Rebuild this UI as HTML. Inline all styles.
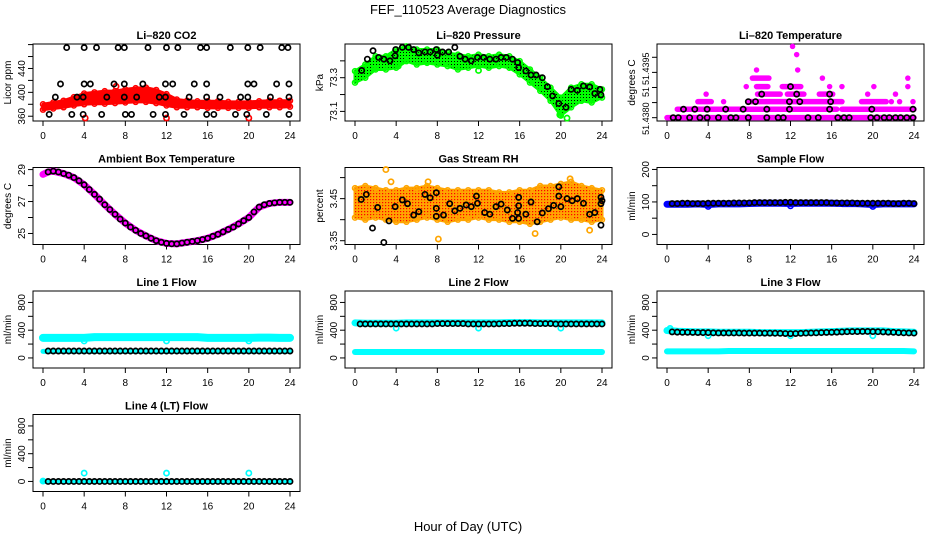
<!DOCTYPE html>
<html><head><meta charset="utf-8"><title>FEF_110523 Average Diagnostics</title>
<style>
html,body{margin:0;padding:0;background:#fff;}
svg{display:block;font-family:"Liberation Sans",Arial,sans-serif;}
</style></head>
<body>
<svg id="chart" width="936" height="540" viewBox="0 0 936 540" xmlns="http://www.w3.org/2000/svg">
<defs>
<pattern id="dotBlack" width="3" height="3" patternUnits="userSpaceOnUse"><rect x="1" y="1" width="1" height="1" fill="#000"/></pattern>
<pattern id="dotRed" width="3" height="3" patternUnits="userSpaceOnUse"><rect x="1" y="1" width="1.2" height="1.2" fill="#f00"/></pattern>
</defs>
<text x="468" y="14" font-size="13" text-anchor="middle">FEF_110523  Average Diagnostics</text>
<text x="468" y="531" font-size="13" text-anchor="middle">Hour of Day (UTC)</text>
</svg>
<script>
// ---------- data ----------
const X_TICKS=[0,4,8,12,16,20,24];
const HOURS=[0,1,2,3,4,5,6,7,8,9,10,11,12,13,14,15,16,17,18,19,20,21,22,23,24];
const HH=[0.5,1,1.5,2,2.5,3,3.5,4,4.5,5,5.5,6,6.5,7,7.5,8,8.5,9,9.5,10,10.5,11,11.5,12,12.5,13,13.5,14,14.5,15,15.5,16,16.5,17,17.5,18,18.5,19,19.5,20,20.5,21,21.5,22,22.5,23,23.5,24];

// CO2
const co2Upper=[380,383,386,392,398,400,402,402,405,407,408,404,397,388,386,385,385,385,384,384,384,385,386,386,386];
const co2Lower=[371,373,375,378,380,381,381,382,383,384,384,382,378,375,375,375,374,374,374,374,374,375,375,375,376];
const co2RedOutH=[4.1,7.1,12,20];
const co2RedOutV=[357,410,357,357];
const co2BlackH=[2.3,4.0,5.2,7.3,7.9,10.2,12.0,13.1,15.3,15.9,18.2,19.9,21.1,23.2,23.8,
 1.7,4.0,4.6,6.9,7.9,9.7,11.9,12.6,14.7,15.9,19.9,20.5,22.7,23.9,
 1.2,3.3,3.9,6.2,7.9,9.1,11.3,11.9,14.2,15.9,17.2,19.2,19.9,22.1,23.9,
 0.6,2.8,3.9,5.7,8.0,8.6,10.7,11.9,13.7,15.9,16.6,18.7,19.8,21.7,23.9];
const co2BlackV=[475,475,475,475,475,475,475,475,475,475,475,475,475,475,475,
 414,414,414,414,414,414,414,414,414,414,414,414,414,414,
 392,392,392,392,392,392,392,392,392,392,392,392,392,392,392,
 363,363,363,363,363,363,363,363,363,363,363,363,363,363,363];

// Pressure
const presUpper=[73.339,73.378,73.427,73.427,73.467,73.486,73.467,73.467,73.467,73.447,73.437,73.427,73.437,73.427,73.437,73.427,73.398,73.349,73.300,73.241,73.182,73.241,73.261,73.261,73.231];
const presLower=[73.271,73.300,73.349,73.349,73.359,73.398,73.378,73.388,73.378,73.369,73.349,73.359,73.369,73.359,73.369,73.359,73.320,73.271,73.222,73.163,73.075,73.124,73.163,73.153,73.182];
const presBlackH=[0.65,1.2,1.75,2.3,2.8,3.4,3.9,3.95,4.6,5.2,5.7,6.2,6.8,7.3,7.9,8.0,8.5,9.1,9.7,10.2,10.7,11.3,11.9,12.5,13.1,13.7,14.2,14.7,15.3,15.8,15.9,16.6,17.1,17.6,18.2,18.7,19.2,19.8,20.5,21.0,21.6,22.2,22.8,23.3,23.8,23.9];
const presBlackV=[73.343,73.41,73.46,73.42,73.41,73.40,73.43,73.467,73.48,73.48,73.467,73.447,73.453,73.453,73.467,73.433,73.453,73.453,73.48,73.427,73.41,73.40,73.42,73.42,73.41,73.41,73.42,73.42,73.41,73.39,73.36,73.34,73.316,73.316,73.30,73.247,73.192,73.147,73.124,73.231,73.225,73.251,73.245,73.206,73.231,73.198];
const presOutH=[4.2,12.0,19.9,20.6];
const presOutV=[73.369,73.343,73.08,73.06];

// Li-820 temperature
const tempLevels=[51.43800,51.43828,51.43853,51.43878,51.43903,51.43931,51.43958,51.44009,51.44036];
const tempSegLevel=[0,1,1,1,2,2,2,2,2,2,2,3,3,3,3,3,3,4,4,4,4,4,4,4,5,5,5,6,6,7,8];
const tempSegStart=[0.0,1.0,5.8,17.0,3.0,5.5,7.9,18.9,21.8,22.6,23.9,3.8,8.8,11.7,14.8,19.5,22.2,7.7,8.7,11.2,15.8,17.0,20.1,23.4,8.3,15.1,23.4,8.7,12.7,12.6,12.2];
const tempSegEnd=[24.0,5.5,16.5,24.0,4.3,5.5,17.0,21.3,21.8,22.6,23.9,3.8,11.0,13.3,16.1,19.5,22.2,7.7,9.8,13.0,15.8,17.0,20.1,23.4,9.9,15.1,23.4,8.7,12.7,12.6,12.2];
const tempBlackH=[0.6,1.1,2.2,3.2,3.9,5.0,6.2,6.7,7.9,9.7,10.8,11.3,13.7,14.7,16.6,17.2,17.7,19.8,20.4,21.1,21.6,22.2,22.7,23.3,23.9,
 1.6,2.7,3.9,5.7,7.4,9.7,11.9,15.8,19.9,23.9, 7.9,8.6,11.9,12.9,15.9, 9.2,12.6,15.8, 12.0];
const tempBlackLevel=[0,0,0,0,0,0,0,0,0,0,0,0,0,0,0,0,0,0,0,0,0,0,0,0,0, 1,1,1,1,1,1,1,1,1,1, 2,2,2,2,2, 3,3,3, 4];

// Ambient box temperature
const ambMagH=[0,0.5,1,2,3,4,5,6,7,8,9,10,11,12,13,14,15,16,17,18,19,20,21,22,23,24];
const ambMagV=[28.7,28.85,28.9,28.75,28.5,28.05,27.45,26.8,26.2,25.65,25.2,24.85,24.55,24.38,24.35,24.45,24.55,24.7,24.95,25.25,25.6,26.0,26.65,26.88,26.95,26.95];
const ambBlackV=[28.85,28.9,28.85,28.75,28.65,28.5,28.3,28.05,27.75,27.45,27.15,26.8,26.5,26.2,25.9,25.65,25.4,25.2,25.0,24.85,24.7,24.55,24.45,24.38,24.35,24.35,24.4,24.45,24.5,24.55,24.62,24.7,24.82,24.95,25.1,25.25,25.4,25.6,25.8,26.0,26.35,26.65,26.8,26.88,26.92,26.95,26.95,26.95];

// Gas stream RH
const rhUpper=[3.475,3.48,3.475,3.47,3.47,3.475,3.475,3.48,3.475,3.47,3.47,3.47,3.47,3.47,3.465,3.465,3.47,3.47,3.48,3.48,3.485,3.49,3.48,3.475,3.47];
const rhLower=[3.405,3.40,3.405,3.40,3.395,3.395,3.40,3.405,3.40,3.395,3.40,3.40,3.405,3.40,3.40,3.395,3.395,3.39,3.395,3.40,3.405,3.40,3.40,3.395,3.40];
const rhOutH=[3.0,3.5,7.1,8.1,17.5,20.9,22.8];
const rhOutV=[3.519,3.49,3.49,3.354,3.367,3.497,3.375];
const rhBlackH=[0.6,1.1,1.7,2.2,2.8,3.3,3.9,4.6,5.1,5.7,6.2,6.8,7.3,7.9,7.9,7.9,8.6,9.2,9.7,10.2,10.8,11.3,11.8,11.9,12.6,13.1,13.7,14.2,14.8,15.3,15.9,15.9,15.8,15.9,16.6,17.1,17.7,18.2,18.8,19.3,19.8,19.8,20.0,20.6,21.1,21.6,22.2,22.8,23.3,23.9,23.9,23.9,24.0];
const rhBlackV=[3.448,3.46,3.38,3.429,3.346,3.397,3.431,3.447,3.438,3.411,3.419,3.46,3.452,3.427,3.464,3.408,3.411,3.438,3.421,3.427,3.435,3.431,3.456,3.439,3.417,3.413,3.431,3.437,3.423,3.403,3.453,3.433,3.417,3.403,3.413,3.442,3.395,3.416,3.426,3.434,3.478,3.456,3.431,3.45,3.445,3.45,3.439,3.413,3.417,3.453,3.438,3.387,3.445];

// Sample flow
const sampleBlue=[93,93,93,94,92,94,94,94,95,96,96,96,95,96,96,96,96,95,95,94,92,94,94,94,94];
const sampleBlack=[95,95,96,96,95,95,95,96,96,96,96,96,97,97,97,97,98,98,98,98,98,98,99,99,98,98,98,98,98,98,98,97,97,97,97,97,96,96,96,96,96,96,96,95,95,96,96,95];
const sampleOutH=[4,12,20];
const sampleOutV=[86,88,86];

// Line flows
const l1CyanHi=[290,290,290,290,290,300,300,300,300,300,300,300,300,300,300,300,290,290,290,290,290,292,292,290,290];
const l1CyanLo=[95,95,95,95,95,95,95,95,95,95,95,95,95,95,95,95,95,95,95,95,95,95,95,95,95];
const l1Black=[100,100,100,100,100,100,100,100,100,100,100,100,100,100,100,100,100,100,100,100,100,100,100,100,100,100,100,100,100,100,100,100,100,100,100,100,100,100,100,100,100,100,100,100,100,100,100,100];
const l1OutH=[4,12,20];
const l1OutV=[245,245,245];

const l2CyanHi=[505,500,500,500,500,505,505,505,505,505,505,505,505,505,505,510,510,510,505,505,505,505,505,505,505];
const l2CyanLo=[85,85,85,85,85,85,85,85,85,85,85,85,85,85,85,85,85,85,85,85,85,85,85,85,85];
const l2Black=[490,490,490,490,490,490,490,490,490,490,490,490,490,490,490,495,495,495,495,495,495,490,490,490,490,490,490,492,495,495,500,500,500,500,495,495,495,495,490,490,490,490,490,490,490,490,490,490];
const l2OutH=[4,12,20];
const l2OutV=[430,430,430];

const l3CyanHi=[395,385,380,375,375,370,370,370,370,365,365,365,365,365,370,375,380,385,390,390,390,390,380,375,370];
const l3CyanLo=[95,95,95,95,95,95,100,100,100,100,100,100,100,100,100,100,100,100,100,100,100,100,100,100,95];
const l3Black=[375,372,370,370,368,366,365,365,362,360,360,360,360,360,358,358,358,358,357,357,356,355,352,350,352,355,358,360,362,365,368,370,372,375,378,380,380,382,382,380,378,375,372,370,365,362,360,358];
const l3OutH=[0.3,4,12,20];
const l3OutV=[425,320,320,320];

const l4CyanLo=[0,0,0,0,0,0,0,0,0,0,0,0,0,0,0,0,0,0,0,0,0,0,0,0,0];
const l4Black=[0,0,0,0,0,0,0,0,0,0,0,0,0,0,0,0,0,0,0,0,0,0,0,0,0,0,0,0,0,0,0,0,0,0,0,0,0,0,0,0,0,0,0,0,0,0,0,0];
const l4OutH=[0,4,12,20];
const l4OutV=[5,120,120,120];

// ---------- drawing ----------
const NS='http://www.w3.org/2000/svg';
const svg=document.getElementById('chart');
const COLX=[0,312,624];
const ROWT=[44,167.5,291,414.5];
const PH=77;

function el(tag,attrs,name,parent){
  const e=document.createElementNS(NS,tag);
  for(const k in attrs) e.setAttribute(k,attrs[k]);
  
  
  (parent||svg).appendChild(e);
  return e;
}

function panel(col,row,ylim,name){
  const cx=COLX[col], top=ROWT[row], bot=top+PH;
  const g=el('g',{},name);
  return {g,cx,top,bot,
    x:h=>cx+43+h*(247/24),
    y:v=>bot-(v-ylim[0])/(ylim[1]-ylim[0])*PH};
}

function axes(p,title,ylab,yTicks,yLabVals,yLabs,yfs){
  el('rect',{x:p.cx+33,y:p.top,width:267,height:PH,fill:'none',stroke:'#000','stroke-width':1},'plot-frame',p.g);
  el('text',{x:p.cx+166.5,y:p.top-5,'font-size':11,'font-weight':'bold','text-anchor':'middle'},'panel-title',p.g).textContent=title;
  for(const t of X_TICKS){
    const xx=p.x(t);
    el('line',{x1:xx,x2:xx,y1:p.bot,y2:p.bot+5,stroke:'#000'},'x-tick',p.g);
    el('text',{x:xx,y:p.bot+18,'font-size':10,'text-anchor':'middle'},'x-tick-label',p.g).textContent=t;
  }
  for(const t of yTicks){
    const yy=p.y(t);
    el('line',{x1:p.cx+28,x2:p.cx+33,y1:yy,y2:yy,stroke:'#000'},'y-tick',p.g);
  }
  yLabs.forEach((s,i)=>{
    const yy=p.y(yLabVals[i]);
    el('text',{x:0,y:0,'font-size':yfs||10,'text-anchor':'middle',transform:`translate(${p.cx+25},${yy}) rotate(-90)`},'y-tick-label',p.g).textContent=s;
  });
  el('text',{x:0,y:0,'font-size':10,'text-anchor':'middle',transform:`translate(${p.cx+11},${(p.top+p.bot)/2}) rotate(-90)`},'y-axis-title',p.g).textContent=ylab;
}

function band(p,hs,up,lo,color,pat,name){
  let pts=hs.map((h,i)=>p.x(h)+','+p.y(up[i]));
  pts=pts.concat(hs.map((h,i)=>p.x(h)+','+p.y(lo[i])).reverse());
  el('polygon',{points:pts.join(' '),fill:color,stroke:color,'stroke-width':3,'stroke-linejoin':'round'},name,p.g);
  if(pat) el('polygon',{points:pts.join(' '),fill:'url(#'+pat+')'},name+'-texture',p.g);
  hs.forEach((h,i)=>{
    el('circle',{cx:p.x(h),cy:p.y(up[i]),r:2.5,fill:'none',stroke:color,'stroke-width':1.5},name+'-edge-point',p.g);
    el('circle',{cx:p.x(h),cy:p.y(lo[i]),r:2.5,fill:'none',stroke:color,'stroke-width':1.5},name+'-edge-point',p.g);
  });
}
function thick(p,hs,vs,color,w,name){
  el('polyline',{points:hs.map((h,i)=>p.x(h)+','+p.y(vs[i])).join(' '),fill:'none',stroke:color,'stroke-width':w,'stroke-linecap':'round','stroke-linejoin':'round'},name,p.g);
}
function pts(p,hs,vs,color,name,r){
  hs.forEach((h,i)=>{
    el('circle',{cx:p.x(h),cy:p.y(vs[i]),r:r||2.6,fill:'none',stroke:color,'stroke-width':1.7},name,p.g);
  });
}

// Panel 1: CO2
let p=panel(0,0,[352,481],'panel-co2');
axes(p,'Li\u2013820 CO2','Licor ppm',[360,380,400,420,440,460,480],[360,400,440],['360','400','440']);
band(p,HOURS,co2Upper,co2Lower,'#ff0000',null,'co2-red-band');
pts(p,co2RedOutH,co2RedOutV,'#ff0000','co2-red-point');
pts(p,co2BlackH,co2BlackV,'#000','co2-black-point');

// Panel 2: pressure
p=panel(1,0,[73.043,73.50],'panel-pressure');
axes(p,'Li\u2013820 Pressure','kPa',[73.1,73.2,73.3,73.4],[73.1,73.3],['73.1','73.3']);
band(p,HOURS,presUpper,presLower,'#00ff00','dotBlack','pressure-green-band');
pts(p,presOutH,presOutV,'#00ff00','pressure-green-point');
pts(p,presBlackH,presBlackV,'#000','pressure-black-point');

// Panel 3: Li-820 temperature
p=panel(2,0,[51.43789,51.44044],'panel-li820-temperature');
axes(p,'Li\u2013820 Temperature','degrees C',[51.4380,51.4385,51.4390,51.4395,51.4400],[51.43797,51.43885,51.43962],['51.4380','51','51.4395'],9);
tempSegLevel.forEach((lv,i)=>{
  const yy=p.y(tempLevels[lv]);
  el('line',{x1:p.x(tempSegStart[i]),x2:p.x(tempSegEnd[i]),y1:yy,y2:yy,stroke:'#ff00ff','stroke-width':5.5,'stroke-linecap':'round'},'temp-magenta-points',p.g);
});
pts(p,tempBlackH,tempBlackLevel.map(l=>tempLevels[l]),'#000','temp-black-point');

// Panel 4: ambient
p=panel(0,1,[24.31,29.13],'panel-ambient-temperature');
axes(p,'Ambient Box Temperature','degrees C',[25,26,27,28,29],[25,27,29],['25','27','29']);
thick(p,ambMagH,ambMagV,'#ff00ff',7,'ambient-magenta-line');
pts(p,HH,ambBlackV,'#000','ambient-black-point');

// Panel 5: RH
p=panel(1,1,[3.341,3.524],'panel-gas-rh');
axes(p,'Gas Stream RH','percent',[3.35,3.40,3.45,3.50],[3.35,3.45],['3.35','3.45']);
band(p,HOURS,rhUpper,rhLower,'#ffa500','dotRed','rh-orange-band');
pts(p,rhOutH,rhOutV,'#ffa500','rh-orange-point');
pts(p,rhBlackH,rhBlackV,'#000','rh-black-point');

// Panel 6: sample flow
p=panel(2,1,[-31,206],'panel-sample-flow');
axes(p,'Sample Flow','ml/min',[0,50,100,150,200],[0,100,200],['0','100','200']);
thick(p,HOURS,sampleBlue,'#0000ff',7,'sample-blue-band');
pts(p,sampleOutH,sampleOutV,'#0000ff','sample-blue-point');
pts(p,HH,sampleBlack,'#000','sample-black-point');

// Flow panels
const FL=[-145,965], FT=[0,200,400,600,800], FLV=[0,400,800], FLS=['0','400','800'];
p=panel(0,2,FL,'panel-line1-flow');
axes(p,'Line 1 Flow','ml/min',FT,FLV,FLS);
thick(p,HOURS,l1CyanHi,'#00ffff',8,'line1-cyan-band-high');
thick(p,HOURS,l1CyanLo,'#00ffff',5,'line1-cyan-band-low');
pts(p,l1OutH,l1OutV,'#00ffff','line1-cyan-point');
pts(p,HH,l1Black,'#000','line1-black-point');

p=panel(1,2,FL,'panel-line2-flow');
axes(p,'Line 2 Flow','ml/min',FT,FLV,FLS);
thick(p,HOURS,l2CyanHi,'#00ffff',7,'line2-cyan-band-high');
thick(p,HOURS,l2CyanLo,'#00ffff',6,'line2-cyan-band-low');
pts(p,l2OutH,l2OutV,'#00ffff','line2-cyan-point');
pts(p,HH,l2Black,'#000','line2-black-point');

p=panel(2,2,FL,'panel-line3-flow');
axes(p,'Line 3 Flow','ml/min',FT,FLV,FLS);
thick(p,HOURS,l3CyanHi,'#00ffff',7,'line3-cyan-band-high');
thick(p,HOURS,l3CyanLo,'#00ffff',6,'line3-cyan-band-low');
pts(p,l3OutH,l3OutV,'#00ffff','line3-cyan-point');
pts(p,HH,l3Black,'#000','line3-black-point');

p=panel(0,3,FL,'panel-line4-flow');
axes(p,'Line 4 (LT) Flow','ml/min',FT,FLV,FLS);
thick(p,HOURS,l4CyanLo,'#00ffff',5,'line4-cyan-band');
pts(p,l4OutH,l4OutV,'#00ffff','line4-cyan-point');
pts(p,HH,l4Black,'#000','line4-black-point');
</script>
</body></html>
